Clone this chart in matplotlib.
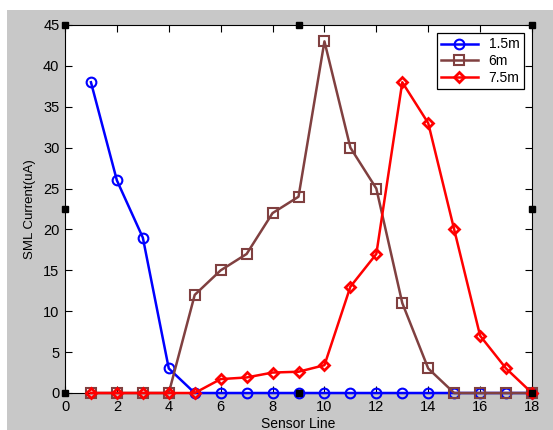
import numpy as np
import matplotlib.pyplot as plt
from matplotlib.patches import Rectangle

plt.rcParams['font.family'] = ['Liberation Sans', 'DejaVu Sans']

sensorLine = np.arange(1, 19)
current_1_5m = [38, 26, 19, 3, 0, 0, 0, 0, 0, 0, 0, 0, 0, 0, 0, 0, 0, 0]
current_6m = [0, 0, 0, 0, 12, 15, 17, 22, 24, 43, 30, 25, 11, 3, 0, 0, 0, 0]
current_7_5m = [0, 0, 0, 0, 0, 1.7, 1.9, 2.5, 2.6, 3.4, 13, 17, 38, 33, 20, 7, 3, 0]
seriesNames = ['1.5m', '6m', '7.5m']

fig = plt.figure(figsize=(5.53, 4.30), dpi=100, facecolor='white')
# grey figure panel (white strip left and top like the screenshot)
fig.patches.append(Rectangle((7/553, 0), 1 - 7/553, 1 - 10/430, transform=fig.transFigure,
                             facecolor='#c8c8c8', edgecolor='none', zorder=-10))

ax = fig.add_axes([65/553, 37/430, 467/553, 368/430])
ax.set_facecolor('white')

ax.plot(sensorLine, current_1_5m, color='#0000ff', lw=1.8, marker='o', ms=7, mfc='none', mew=1.5,
        label=seriesNames[0], clip_on=False, zorder=3)
ax.plot(sensorLine, current_6m, color='#804040', lw=1.8, marker='s', ms=7, mfc='none', mew=1.5,
        label=seriesNames[1], clip_on=False, zorder=3)
ax.plot(sensorLine, current_7_5m, color='#ff0000', lw=1.8, marker='D', ms=5.5, mfc='none', mew=2,
        label=seriesNames[2], clip_on=False, zorder=4)

ax.set_xlim(0, 18)
ax.set_ylim(0, 45)
ax.set_xticks(np.arange(0, 19, 2))
ax.set_yticks(np.arange(0, 46, 5))
ax.tick_params(direction='in', top=True, right=True, length=5, width=0.8, labelsize=10.5)
ax.tick_params(axis='x', pad=5)
ax.tick_params(axis='y', pad=4)
for s in ax.spines.values():
    s.set_linewidth(0.8)

ax.set_xlabel('Sensor Line', fontsize=10, labelpad=2)
ax.set_ylabel('SML Current(uA)', fontsize=9.5, labelpad=5)

leg = ax.legend(loc='upper right', fontsize=10, fancybox=False, framealpha=1, edgecolor='black',
                borderaxespad=0.6, handlelength=2.6, labelspacing=0.2, borderpad=0.3)
leg.get_frame().set_linewidth(0.9)

# black selection handles of the edited figure
hx = [0, 0.5, 1, 0, 1, 0, 0.5, 1]
hy = [1, 1, 1, 0.5, 0.5, 0, 0, 0]
ax.plot(hx, hy, 's', color='black', ms=4.5, transform=ax.transAxes, clip_on=False, zorder=6)

fig.savefig('out.png', dpi=100, facecolor=fig.get_facecolor())
